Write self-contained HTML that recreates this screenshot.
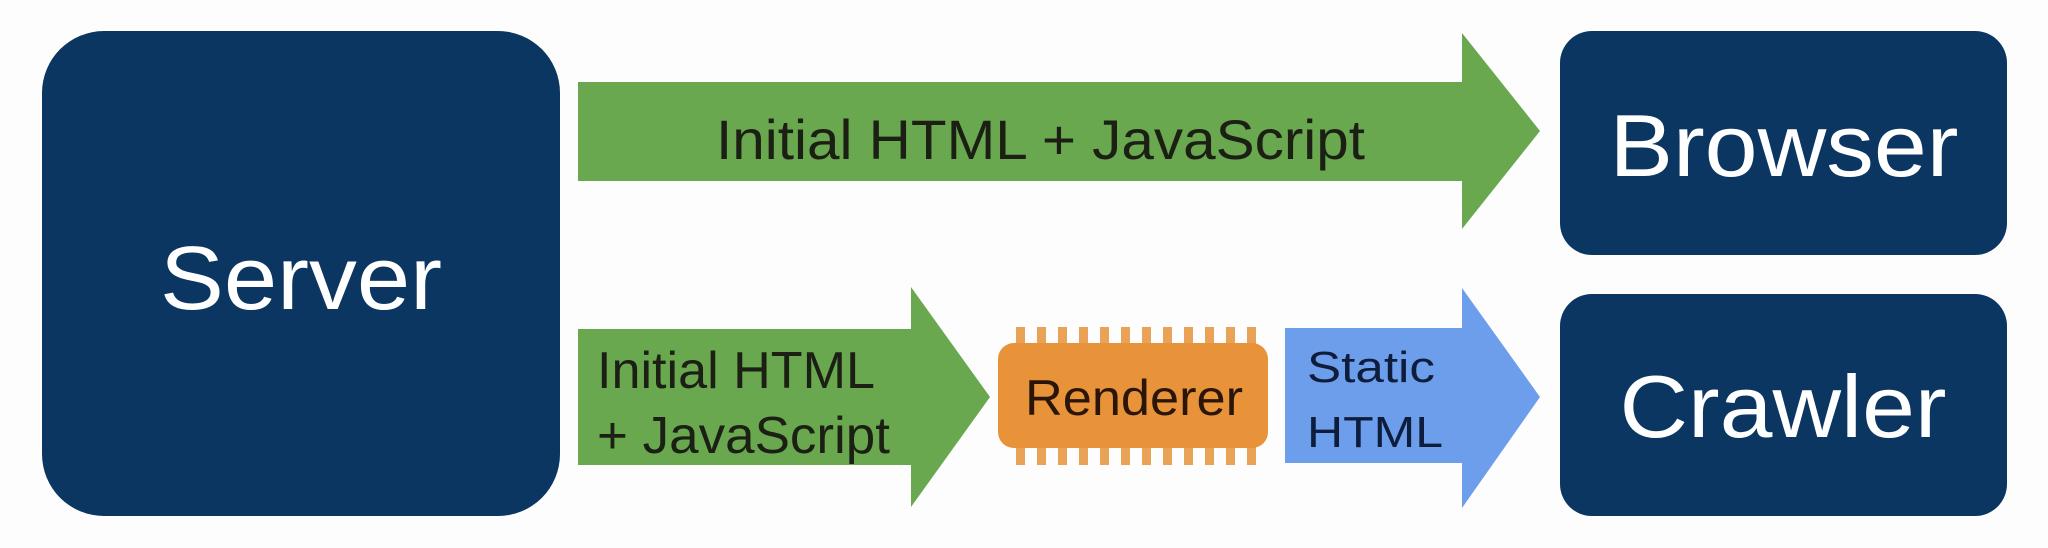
<!DOCTYPE html>
<html><head><meta charset="utf-8"><style>
html,body{margin:0;padding:0;background:#fdfdfd;}
svg{display:block;}
text{font-family:"Liberation Sans",Arial,sans-serif;}
</style></head><body>
<svg width="2048" height="548" viewBox="0 0 2048 548" xmlns="http://www.w3.org/2000/svg">
<rect width="2048" height="548" fill="#fdfdfd"/>
<!-- Server -->
<rect x="42" y="31" width="518" height="485" rx="62" fill="#0b3661"/>
<text x="301" y="309" font-size="90" fill="#fff" text-anchor="middle" textLength="282" lengthAdjust="spacingAndGlyphs">Server</text>
<!-- Browser -->
<rect x="1560" y="31" width="447" height="224" rx="32" fill="#0b3661"/>
<text x="1784" y="176" font-size="88" fill="#fff" text-anchor="middle" textLength="349" lengthAdjust="spacingAndGlyphs">Browser</text>
<!-- Crawler -->
<rect x="1560" y="294" width="447" height="222" rx="32" fill="#0b3661"/>
<text x="1783" y="437" font-size="88" fill="#fff" text-anchor="middle" textLength="327" lengthAdjust="spacingAndGlyphs">Crawler</text>
<!-- top green arrow -->
<polygon points="578,82 1462,82 1462,33 1540,131 1462,229 1462,181 578,181" fill="#6aa84f"/>
<text x="716" y="159" font-size="56" fill="#1b1f14" textLength="649" lengthAdjust="spacingAndGlyphs">Initial HTML + JavaScript</text>
<!-- bottom green arrow -->
<polygon points="578,329 911,329 911,287 990,397 911,507 911,465 578,465" fill="#6aa84f"/>
<text x="597" y="388" font-size="52" fill="#1b1f14" textLength="278" lengthAdjust="spacingAndGlyphs">Initial HTML</text>
<text x="597" y="453" font-size="52" fill="#1b1f14" textLength="293" lengthAdjust="spacingAndGlyphs">+ JavaScript</text>
<!-- chip -->
<g fill="#e9a356">
<rect x="1016" y="327" width="9" height="20"/><rect x="1037" y="327" width="9" height="20"/><rect x="1058" y="327" width="9" height="20"/><rect x="1079" y="327" width="9" height="20"/><rect x="1100" y="327" width="9" height="20"/><rect x="1121" y="327" width="9" height="20"/><rect x="1142" y="327" width="9" height="20"/><rect x="1163" y="327" width="9" height="20"/><rect x="1184" y="327" width="9" height="20"/><rect x="1205" y="327" width="9" height="20"/><rect x="1226" y="327" width="9" height="20"/><rect x="1247" y="327" width="9" height="20"/>
<rect x="1016" y="445" width="9" height="20"/><rect x="1037" y="445" width="9" height="20"/><rect x="1058" y="445" width="9" height="20"/><rect x="1079" y="445" width="9" height="20"/><rect x="1100" y="445" width="9" height="20"/><rect x="1121" y="445" width="9" height="20"/><rect x="1142" y="445" width="9" height="20"/><rect x="1163" y="445" width="9" height="20"/><rect x="1184" y="445" width="9" height="20"/><rect x="1205" y="445" width="9" height="20"/><rect x="1226" y="445" width="9" height="20"/><rect x="1247" y="445" width="9" height="20"/>
</g>
<rect x="998" y="343" width="270" height="105" rx="16" fill="#e8923a"/>
<text x="1025" y="415" font-size="50" fill="#2a1608" textLength="218" lengthAdjust="spacingAndGlyphs">Renderer</text>
<!-- blue arrow -->
<polygon points="1285,328 1462,328 1462,288 1540,397 1462,508 1462,463 1285,463" fill="#6d9eeb"/>
<text x="1307" y="382" font-size="44" fill="#0f1d3c" textLength="128" lengthAdjust="spacingAndGlyphs">Static</text>
<text x="1307" y="447" font-size="44" fill="#0f1d3c" textLength="136" lengthAdjust="spacingAndGlyphs">HTML</text>
</svg>
</body></html>
